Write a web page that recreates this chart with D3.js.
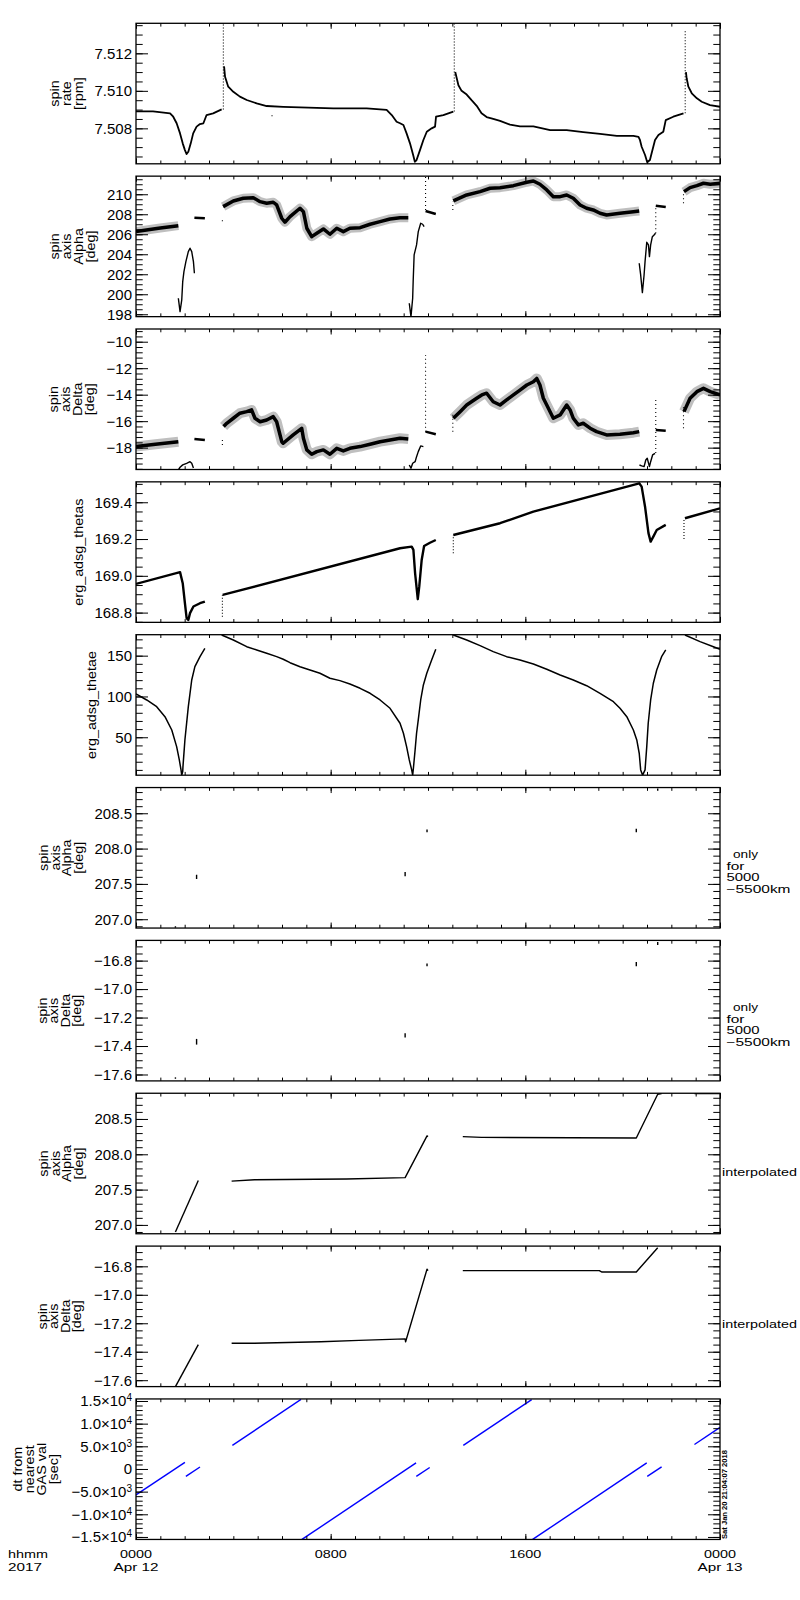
<!DOCTYPE html>
<html>
<head>
<meta charset="utf-8">
<script src="https://cdn.jsdelivr.net/npm/d3@7/dist/d3.min.js"></script>
<style>
html,body{margin:0;padding:0;background:#fff;}
svg{display:block;}
text{font-family:"Liberation Sans",Arial,sans-serif;fill:#000;}
</style>
</head>
<body>
<svg id="chart" width="800" height="1600" xmlns="http://www.w3.org/2000/svg"></svg>
<script>
// ================= DATA (time in hours since 0000 Apr 12 2017) =================
const hourTicksMajor = [0, 8, 16, 24];
const hourLabels = ["0000", "0800", "1600", "0000"];
const dateLabels = ["Apr 12", "", "", "Apr 13"];
const hourTicksMinor = [0,1,2,3,4,5,6,7,8,9,10,11,12,13,14,15,16,17,18,19,20,21,22,23,24];
const cornerLabels = ["hhmm", "2017"];
const stampText = "Sat Jan 20 21:04:07 2018";

// ---- panel 1: spin rate [rpm]
const spinRateDomain = [7.50611, 7.5136];
const spinRateTicks = [7.508, 7.510, 7.512];
const spinRateTickLabels = ["7.508", "7.510", "7.512"];
const spinRateMinorStep = 0.0005;
const spinRateTitle = ["spin", "rate", "[rpm]"];
const spinRateSegs = [
  [[0,7.5089],[0.7,7.5089],[1.40,7.5088],[1.53,7.50862],[1.67,7.50827],[1.81,7.50773],[1.92,7.5072],[2.01,7.50684],[2.08,7.50663],[2.15,7.50675],[2.25,7.5072],[2.35,7.50773],[2.49,7.50809],[2.63,7.50823],[2.77,7.50827],[2.90,7.50871],[3.17,7.5088],[3.52,7.50901]],
  [[3.62,7.5113],[3.66,7.51075],[3.79,7.51022],[4.0,7.50995],[4.27,7.50969],[4.55,7.50951],[4.96,7.50933],[5.37,7.50919],[6.05,7.50915],[6.74,7.50912],[8.11,7.50907],[9.48,7.50907],[10.30,7.50898],[10.51,7.50871],[10.71,7.50835],[10.85,7.50827],[10.99,7.50818],[11.12,7.50773],[11.26,7.5072],[11.39,7.50658],[11.46,7.50622],[11.53,7.50631],[11.67,7.50684],[11.81,7.50738],[11.95,7.50782],[12.15,7.508],[12.29,7.50809],[12.33,7.50862],[12.63,7.50871],[13.04,7.50889]],
  [[13.12,7.5110],[13.25,7.5103],[13.38,7.5100],[13.59,7.5098],[13.79,7.5095],[14.0,7.5092],[14.2,7.5088],[14.41,7.5086],[14.68,7.5085],[14.96,7.5084],[15.37,7.5082],[15.78,7.5081],[16.33,7.5081],[17.02,7.5079],[17.70,7.5079],[18.38,7.5078],[19.07,7.5077],[19.76,7.5076],[20.44,7.5076],[20.65,7.50755],[20.71,7.50738],[20.78,7.50702],[20.92,7.50658],[21.01,7.50619],[21.12,7.50631],[21.19,7.50667],[21.33,7.50738],[21.47,7.50764],[21.67,7.50782],[21.77,7.50844],[22.08,7.50862],[22.5,7.5088]],
  [[22.60,7.5110],[22.63,7.51067],[22.7,7.51022],[22.84,7.50987],[23.05,7.5096],[23.25,7.50942],[23.59,7.50924],[24,7.50915]]
];
const spinRateSpikes = [[3.59,7.5090,7.5136],[13.08,7.5089,7.5136],[22.57,7.5088,7.5132],[5.59,7.50865,7.5088]];

// ---- panel 2: spin axis Alpha [deg]
const alphaDomain = [197.76, 211.81];
const alphaTicks = [198, 200, 202, 204, 206, 208, 210];
const alphaTickLabels = ["198", "200", "202", "204", "206", "208", "210"];
const alphaMinorStep = 0.5;
const alphaTitle = ["spin", "axis", "Alpha", "[deg]"];
const alphaBands = [
  [[0,206.27],[0.5,206.45],[1.0,206.62],[1.74,206.86]],
  [[3.58,208.76],[4.0,209.33],[4.41,209.6],[4.82,209.66],[5.10,209.26],[5.37,209.1],[5.64,209.2],[5.78,208.93],[5.99,207.6],[6.12,207.2],[6.33,207.76],[6.74,208.6],[6.88,208.26],[7.02,206.6],[7.22,205.76],[7.43,206.1],[7.70,206.53],[7.97,206.0],[8.25,206.6],[8.52,206.26],[8.79,206.6],[9.21,206.66],[9.62,207.0],[10.03,207.26],[10.44,207.53],[10.85,207.66],[11.19,207.66]],
  [[13.04,209.33],[13.59,209.93],[14.14,210.26],[14.55,210.6],[14.96,210.66],[15.51,210.86],[16.06,211.2],[16.33,211.33],[16.60,211.0],[16.88,210.43],[17.15,209.76],[17.43,209.76],[17.70,209.93],[17.97,209.6],[18.25,208.93],[18.52,208.6],[18.79,208.43],[19.07,208.1],[19.34,207.93],[19.89,208.1],[20.44,208.26],[20.68,208.33]],
  [[22.52,210.26],[22.77,210.66],[23.05,210.86],[23.32,211.1],[23.6,211.0],[24,211.1]]
];
const alphaCurves = [
  [[1.74,199.6],[1.81,198.26],[1.88,199.43],[1.92,201.26],[1.97,202.26],[2.05,203.26],[2.15,204.26],[2.22,204.6],[2.29,204.26],[2.36,203.26],[2.40,202.1]],
  [[11.23,199.1],[11.30,197.76],[11.37,199.6],[11.39,201.26],[11.43,203.93],[11.53,204.93],[11.60,206.26],[11.70,207.1],[11.78,207.0],[11.84,206.76]],
  [[20.68,203.1],[20.74,201.93],[20.81,200.16],[20.88,201.93],[20.92,203.26],[20.99,205.2],[21.06,204.93],[21.10,203.76],[21.15,204.93],[21.22,205.76],[21.29,205.93],[21.35,206.1]]
];
const alphaFlats = [
  [[2.40,207.66],[2.83,207.6]],
  [[11.90,208.33],[12.32,208.03]],
  [[21.36,208.86],[21.77,208.73]]
];
const alphaDotted = [[3.55,207.3,207.6],[11.90,208.43,211.76],[13.02,208.43,209.26],[21.36,206.1,208.9],[22.50,209.1,210.1]];

// ---- panel 3: spin axis Delta [deg]
const deltaDomain = [-19.65, -9.04];
const deltaTicks = [-18, -16, -14, -12, -10];
const deltaTickLabels = ["\u221218", "\u221216", "\u221214", "\u221212", "\u221210"];
const deltaMinorStep = 0.4;
const deltaTitle = ["spin", "axis", "Delta", "[deg]"];
const deltaBands = [
  [[0,-17.92],[0.8,-17.75],[1.74,-17.55]],
  [[3.60,-16.4],[3.73,-16.16],[4.0,-15.78],[4.27,-15.4],[4.55,-15.28],[4.75,-15.15],[4.89,-15.78],[5.10,-16.04],[5.37,-15.91],[5.64,-15.66],[5.78,-16.04],[5.99,-17.55],[6.05,-17.67],[6.46,-17.04],[6.81,-16.54],[6.88,-17.29],[7.02,-18.17],[7.22,-18.5],[7.43,-18.3],[7.70,-18.17],[7.97,-18.5],[8.25,-18.05],[8.52,-18.25],[8.79,-18.05],[9.21,-17.92],[9.62,-17.74],[10.03,-17.55],[10.44,-17.42],[10.85,-17.29],[11.19,-17.34]],
  [[13.04,-15.78],[13.32,-15.28],[13.59,-14.78],[14.0,-14.27],[14.21,-14.02],[14.41,-13.89],[14.68,-14.53],[14.96,-14.78],[15.23,-14.4],[15.51,-14.02],[15.78,-13.65],[16.06,-13.27],[16.33,-13.02],[16.47,-12.77],[16.60,-13.27],[16.74,-14.27],[16.88,-14.78],[17.15,-15.78],[17.43,-15.53],[17.70,-14.78],[17.84,-15.15],[17.97,-15.78],[18.18,-16.28],[18.38,-16.16],[18.66,-16.53],[18.93,-16.79],[19.34,-17.04],[19.89,-16.99],[20.44,-16.87],[20.68,-16.79]],
  [[22.52,-15.28],[22.77,-14.27],[23.05,-13.77],[23.32,-13.52],[23.6,-13.77],[24,-14.02]]
];
const deltaCurves = [
  [[1.74,-19.68],[1.81,-19.48],[1.92,-19.3],[2.08,-19.18],[2.22,-19.06],[2.29,-19.18],[2.36,-19.53]],
  [[11.23,-19.31],[11.30,-19.55],[11.37,-19.18],[11.47,-19.06],[11.53,-18.68],[11.60,-18.3],[11.70,-17.87],[11.81,-17.92]],
  [[20.69,-19.31],[20.78,-19.38],[20.88,-19.43],[20.95,-18.93],[21.01,-18.8],[21.10,-19.43],[21.15,-19.06],[21.23,-18.55],[21.33,-18.43]]
];
const deltaFlats = [
  [[2.40,-17.34],[2.83,-17.42]],
  [[11.90,-16.79],[12.32,-16.99]],
  [[21.36,-16.66],[21.77,-16.72]]
];
const deltaDotted = [[3.55,-17.8,-17.27],[11.90,-16.8,-11.0],[13.02,-16.79,-15.28],[21.36,-18.4,-14.25],[22.50,-16.54,-14.78]];

// ---- panel 4: erg_adsg_thetas
const thetasDomain = [168.747, 169.511];
const thetasTicks = [168.8, 169.0, 169.2, 169.4];
const thetasTickLabels = ["168.8", "169.0", "169.2", "169.4"];
const thetasMinorStep = 0.05;
const thetasTitle = ["erg_adsg_thetas"];
const thetasSegs = [
  [[0,168.956],[1.81,169.02],[1.92,168.96],[2.01,168.851],[2.08,168.77],[2.15,168.76],[2.22,168.797],[2.36,168.833],[2.63,168.851],[2.83,168.86]],
  [[3.56,168.896],[10.85,169.15],[11.33,169.159],[11.40,169.141],[11.47,169.014],[11.58,168.873],[11.64,168.941],[11.74,169.086],[11.84,169.162],[12.08,169.18],[12.32,169.195]],
  [[13.04,169.222],[14.96,169.286],[16.33,169.349],[20.68,169.503],[20.78,169.485],[20.92,169.376],[21.06,169.232],[21.15,169.186],[21.26,169.213],[21.40,169.249],[21.77,169.277]],
  [[22.56,169.313],[24,169.367]]
];
const thetasDotted = [[3.55,168.778,168.896],[13.04,169.123,169.222],[22.52,169.2,169.313]];

// ---- panel 5: erg_adsg_thetae
const thetaeDomain = [3.5, 175.7];
const thetaeTicks = [50, 100, 150];
const thetaeTickLabels = ["50", "100", "150"];
const thetaeMinorStep = 10;
const thetaeTitle = ["erg_adsg_thetae"];
const thetaeSegs = [
  [[0,103.1],[0.44,95.7],[0.85,87.5],[1.19,75.2],[1.47,58.9],[1.67,38.5],[1.78,22.2],[1.85,10],[1.88,3.6],[1.92,8],[1.93,14],[2.01,46.7],[2.15,87.5],[2.29,120.2],[2.42,136.5],[2.63,148.8],[2.83,159]],
  [[3.52,175.4],[4.0,169.2],[4.55,161],[4.96,157],[5.37,152.9],[5.78,148.8],[6.05,145.6],[6.33,141.4],[6.74,136.5],[7.15,132.5],[7.56,128.4],[7.97,122.3],[8.38,119.4],[8.79,115.3],[9.21,110],[9.62,103.9],[10.03,95.7],[10.44,85.5],[10.85,67.2],[10.99,54.9],[11.12,38.5],[11.23,22.2],[11.33,10],[11.37,3.6],[11.40,12],[11.47,34.4],[11.53,54.9],[11.60,71.2],[11.70,95.7],[11.81,114.1],[11.95,128.4],[12.15,144.7],[12.32,157.8]],
  [[13.04,175.4],[13.59,169.2],[14.14,162.3],[14.68,154.9],[15.23,148.8],[15.78,144.7],[16.33,139.8],[16.88,133.3],[17.43,126.3],[17.97,120.2],[18.52,113.2],[19.07,103.9],[19.62,93.6],[19.89,85.5],[20.17,75.2],[20.44,58.9],[20.58,46.7],[20.68,30.4],[20.74,10],[20.82,3.6],[20.92,10],[20.99,38.5],[21.05,67.2],[21.15,95.7],[21.26,116.2],[21.40,132.5],[21.60,148.8],[21.77,157]],
  [[22.56,175.4],[23.18,167.2],[23.73,161],[24,157.8]]
];

// ---- panel 6: spin axis Alpha, only for 5000-5500km
const alphaOnlyDomain = [206.875, 208.864];
const alphaOnlyTicks = [207.0, 207.5, 208.0, 208.5];
const alphaOnlyTickLabels = ["207.0", "207.5", "208.0", "208.5"];
const alphaOnlyMinorStep = 0.1;
const alphaOnlyMarks = [[1.62,206.88,206.9],[2.49,207.57,207.63],[11.06,207.61,207.67],[11.96,208.23,208.27],[20.56,208.23,208.28],[21.44,208.82,208.85]];
const onlyNote = ["only", "for", "5000", "\u22125500km"];

// ---- panel 7: spin axis Delta, only for 5000-5500km
const deltaOnlyDomain = [-17.645, -16.658];
const deltaOnlyTicks = [-17.6, -17.4, -17.2, -17.0, -16.8];
const deltaOnlyTickLabels = ["\u221217.6", "\u221217.4", "\u221217.2", "\u221217.0", "\u221216.8"];
const deltaOnlyMinorStep = 0.05;
const deltaOnlyMarks = [[1.62,-17.63,-17.62],[2.49,-17.39,-17.35],[11.06,-17.34,-17.31],[11.96,-16.84,-16.82],[20.56,-16.84,-16.81],[21.44,-16.69,-16.67]];

// ---- panel 8: spin axis Alpha, interpolated
const alphaInterpSegs = [
  [[1.62,206.9],[2.56,207.63]],
  [[3.93,207.62],[4.87,207.64],[8.65,207.65],[11.06,207.67],[11.96,208.26],[12.0,208.25]],
  [[13.43,208.25],[14.2,208.24],[20.56,208.23],[21.44,208.85],[21.6,208.86]],
  [[22.95,208.86],[24,208.86]]
];
const interpNote = "interpolated";

// ---- panel 9: spin axis Delta, interpolated
const deltaInterpSegs = [
  [[1.62,-17.645],[2.56,-17.35]],
  [[3.93,-17.34],[4.87,-17.34],[7.59,-17.33],[9.17,-17.32],[11.06,-17.31],[11.08,-17.33],[11.96,-16.82],[12.0,-16.83]],
  [[13.43,-16.83],[19.04,-16.83],[19.15,-16.84],[20.56,-16.84],[21.44,-16.67]],
  [[22.95,-16.655],[24,-16.655]]
];

// ---- panel 10: dt from nearest GAS val [sec]
const dtDomain = [-15550, 15450];
const dtTicks = [-15000, -10000, -5000, 0, 5000, 10000, 15000];
const dtTickMantissa = ["\u22121.5\u00d710", "\u22121.0\u00d710", "\u22125.0\u00d710", "0", "5.0\u00d710", "1.0\u00d710", "1.5\u00d710"];
const dtTickExponent = ["4", "4", "3", "", "3", "4", "4"];
const dtMinorStep = 1000;
const dtTitle = ["dt from", "nearest", "GAS val", "[sec]"];
const dtSegs = [
  [[0,-5700],[2.01,1450]],
  [[2.05,-1650],[2.63,440]],
  [[3.96,5200],[6.78,15350]],
  [[6.82,-15550],[11.51,1330]],
  [[11.52,-1650],[12.07,334]],
  [[13.45,5200],[16.26,15316]],
  [[16.30,-15550],[20.99,1334]],
  [[21.01,-1650],[21.6,474]],
  [[22.95,5400],[24,9180]]
];

// ================= DRAWING =================
const svg = d3.select('#chart');
svg.append('rect').attr('width', 800).attr('height', 1600).attr('fill', '#fff');

const L = 136, R = 720, TOP0 = 23.3, PITCH = 152.85, PH = 140.5;
const x = d3.scaleLinear().domain([0, 24]).range([L, R]);
const FS = 15;

function minorValues(domain, step) {
  const lo = Math.min(domain[0], domain[1]), hi = Math.max(domain[0], domain[1]);
  const out = [];
  for (let k = Math.ceil(lo / step - 1e-9); k * step <= hi + 1e-12; k++) out.push(+(k * step).toFixed(8));
  return out;
}

function lines(g, y, segs, width, color, opacity) {
  const ln = d3.line().x(d => x(d[0])).y(d => y(d[1]));
  g.append('g').selectAll('path').data(segs).join('path')
    .attr('d', ln).attr('fill', 'none').attr('stroke', color || '#000')
    .attr('stroke-width', width).attr('stroke-opacity', opacity == null ? 1 : opacity)
    .attr('stroke-linejoin', 'round').attr('stroke-linecap', 'butt');
}
function verticals(g, y, marks, width, dash) {
  g.append('g').selectAll('line').data(marks).join('line')
    .attr('x1', d => x(d[0])).attr('x2', d => x(d[0]))
    .attr('y1', d => y(d[1])).attr('y2', d => y(d[2]))
    .attr('stroke', '#000').attr('stroke-width', width)
    .attr('stroke-dasharray', dash || null);
}

const panels = [
  { domain: spinRateDomain, ticks: spinRateTicks, labels: spinRateTickLabels, minor: spinRateMinorStep,
    title: spinRateTitle, tx: [55, 67, 79],
    draw: (g, y) => { lines(g, y, spinRateSegs, 1.8); verticals(g, y, spinRateSpikes, 1.1, '1,2'); } },
  { domain: alphaDomain, ticks: alphaTicks, labels: alphaTickLabels, minor: alphaMinorStep,
    title: alphaTitle, tx: [55, 67, 79, 91],
    draw: (g, y) => { lines(g, y, alphaBands, 9, '#000', 0.25); lines(g, y, alphaBands, 3.5); lines(g, y, alphaCurves, 1.4);
      lines(g, y, alphaFlats, 2.5); verticals(g, y, alphaDotted, 1.1, '1,3'); } },
  { domain: deltaDomain, ticks: deltaTicks, labels: deltaTickLabels, minor: deltaMinorStep,
    title: deltaTitle, tx: [54, 66, 78, 90],
    draw: (g, y) => { lines(g, y, deltaBands, 10, '#000', 0.25); lines(g, y, deltaBands, 3.5); lines(g, y, deltaCurves, 1.4);
      lines(g, y, deltaFlats, 2.5); verticals(g, y, deltaDotted, 1.1, '1,3'); } },
  { domain: thetasDomain, ticks: thetasTicks, labels: thetasTickLabels, minor: thetasMinorStep,
    title: thetasTitle, tx: [79],
    draw: (g, y) => { lines(g, y, thetasSegs, 2.4); verticals(g, y, thetasDotted, 1.1, '1,2'); } },
  { domain: thetaeDomain, ticks: thetaeTicks, labels: thetaeTickLabels, minor: thetaeMinorStep,
    title: thetaeTitle, tx: [92],
    draw: (g, y) => { lines(g, y, thetaeSegs, 1.5); } },
  { domain: alphaOnlyDomain, ticks: alphaOnlyTicks, labels: alphaOnlyTickLabels, minor: alphaOnlyMinorStep,
    title: alphaTitle, tx: [44, 55.5, 67, 79], note: onlyNote,
    draw: (g, y) => { verticals(g, y, alphaOnlyMarks, 1.4); } },
  { domain: deltaOnlyDomain, ticks: deltaOnlyTicks, labels: deltaOnlyTickLabels, minor: deltaOnlyMinorStep,
    title: deltaTitle, tx: [42.5, 54, 65.5, 77], note: onlyNote,
    draw: (g, y) => { verticals(g, y, deltaOnlyMarks, 1.4); } },
  { domain: alphaOnlyDomain, ticks: alphaOnlyTicks, labels: alphaOnlyTickLabels, minor: alphaOnlyMinorStep,
    title: alphaTitle, tx: [44, 55.5, 67, 79], interp: true,
    draw: (g, y) => { lines(g, y, alphaInterpSegs, 1.4); } },
  { domain: deltaOnlyDomain, ticks: deltaOnlyTicks, labels: deltaOnlyTickLabels, minor: deltaOnlyMinorStep,
    title: deltaTitle, tx: [42.5, 54, 65.5, 77], interp: true,
    draw: (g, y) => { lines(g, y, deltaInterpSegs, 1.4); } },
  { domain: dtDomain, ticks: dtTicks, mantissa: dtTickMantissa, exponent: dtTickExponent, minor: dtMinorStep,
    title: dtTitle, tx: [18, 30, 42, 54],
    draw: (g, y) => { lines(g, y, dtSegs, 1.4, '#0000ff'); } }
];

// layout of the right-hand notes (x, y offset from panel top, width)
const noteLayout = [[733, 67, 25], [726.5, 78.7, 18], [726.5, 90.3, 33], [726.5, 102, 64]];

panels.forEach((p, i) => {
  const top = TOP0 + i * PITCH, bot = top + PH;
  const y = d3.scaleLinear().domain(p.domain).range([bot, top]);
  const g = svg.append('g');

  const cid = 'clip' + i;
  svg.append('clipPath').attr('id', cid).append('rect')
    .attr('x', L).attr('y', top).attr('width', R - L).attr('height', PH);
  const dg = g.append('g').attr('clip-path', `url(#${cid})`);
  p.draw(dg, y);

  const yMinor = minorValues(p.domain, p.minor);
  const ax = g.append('g').attr('class', 'axes');
  ax.append('g').attr('transform', `translate(${L},0)`).call(d3.axisLeft(y).tickValues(yMinor).tickSize(-6.7).tickFormat(''));
  ax.append('g').attr('transform', `translate(${L},0)`).call(d3.axisLeft(y).tickValues(p.ticks).tickSize(-12).tickFormat(''));
  ax.append('g').attr('transform', `translate(${R},0)`).call(d3.axisRight(y).tickValues(yMinor).tickSize(-6.7).tickFormat(''));
  ax.append('g').attr('transform', `translate(${R},0)`).call(d3.axisRight(y).tickValues(p.ticks).tickSize(-12).tickFormat(''));
  ax.append('g').attr('transform', `translate(0,${bot})`).call(d3.axisBottom(x).tickValues(hourTicksMinor).tickSize(-3.3).tickFormat(''));
  ax.append('g').attr('transform', `translate(0,${bot})`).call(d3.axisBottom(x).tickValues(hourTicksMajor).tickSize(-5.5).tickFormat(''));
  ax.append('g').attr('transform', `translate(0,${top})`).call(d3.axisTop(x).tickValues(hourTicksMinor).tickSize(-3.3).tickFormat(''));
  ax.append('g').attr('transform', `translate(0,${top})`).call(d3.axisTop(x).tickValues(hourTicksMajor).tickSize(-5.5).tickFormat(''));
  ax.selectAll('.domain').remove();
  ax.selectAll('.tick text').remove();
  ax.selectAll('.tick line').attr('stroke', '#000').attr('stroke-width', 1);

  g.append('rect').attr('x', L).attr('y', top).attr('width', R - L).attr('height', PH)
    .attr('fill', 'none').attr('stroke', '#000').attr('stroke-width', 1.3);

  p.ticks.forEach((v, k) => {
    const t = g.append('text').attr('x', L - 4).attr('y', y(v)).attr('dy', '0.36em')
      .attr('text-anchor', 'end').attr('font-size', FS);
    if (p.mantissa) {
      t.append('tspan').text(p.mantissa[k]);
      if (p.exponent[k]) t.append('tspan').attr('dy', '-0.5em').attr('font-size', 10).text(p.exponent[k]);
    } else {
      t.text(p.labels[k]);
    }
  });

  const cy = top + PH / 2;
  p.title.forEach((s, k) => {
    g.append('text').attr('transform', `translate(${p.tx[k]},${cy}) rotate(-90) scale(1.15,1)`)
      .attr('text-anchor', 'middle').attr('dy', '0.35em').attr('font-size', 12.5).text(s);
  });

  if (p.note) {
    p.note.forEach((s, k) => {
      const [nx, ny, nw] = noteLayout[k];
      g.append('text').attr('x', nx).attr('y', top + ny).attr('dy', '0.35em')
        .attr('font-size', 10).attr('textLength', nw).attr('lengthAdjust', 'spacingAndGlyphs').text(s);
    });
  }
  if (p.interp) {
    g.append('text').attr('x', 722).attr('y', top + 78.5).attr('dy', '0.35em')
      .attr('font-size', 11).attr('textLength', 75).attr('lengthAdjust', 'spacingAndGlyphs').text(interpNote);
  }
});

// bottom time labels (two rows), stretched to the reference widths
const XFS = 11;
function bottomText(tx, ty, s, anchor, w) {
  svg.append('text').attr('x', tx).attr('y', ty).attr('text-anchor', anchor).attr('font-size', XFS)
    .attr('textLength', w).attr('lengthAdjust', 'spacingAndGlyphs').text(s);
}
hourTicksMajor.forEach((h, k) => {
  bottomText(x(h), 1558, hourLabels[k], 'middle', 32);
  if (dateLabels[k]) bottomText(x(h), 1570.5, dateLabels[k], 'middle', 45);
});
bottomText(8, 1558, cornerLabels[0], 'start', 40);
bottomText(8, 1570.5, cornerLabels[1], 'start', 34);

svg.append('text').attr('transform', 'translate(725,1539) rotate(-90)').attr('dy', '0.35em')
  .attr('font-size', 7).attr('font-weight', 'bold').attr('textLength', 89).attr('lengthAdjust', 'spacingAndGlyphs').text(stampText);
</script>
</body>
</html>
